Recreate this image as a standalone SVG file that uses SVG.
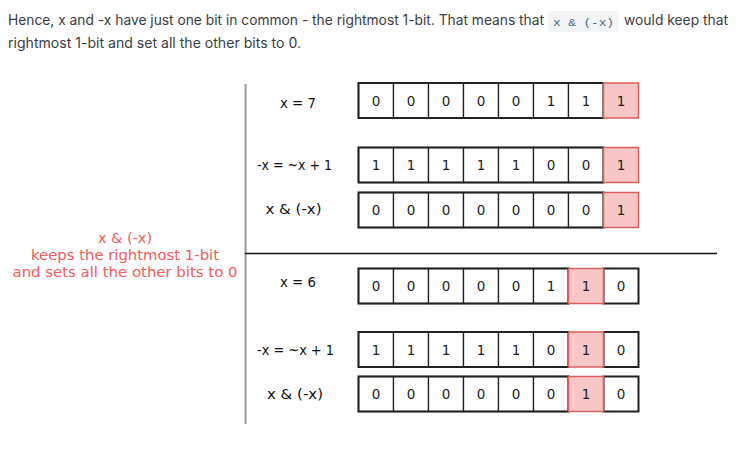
<svg xmlns="http://www.w3.org/2000/svg" width="746" height="452" viewBox="0 0 746 452">
<style>
.p{font-family:Inter,"Noto Sans",sans-serif;font-size:14px;fill:#3c3c43}
.code{font-family:"Liberation Mono","DejaVu Sans Mono",monospace;font-size:11.5px;fill:#476582}
.lbl{font-family:"Comic Sans MS","DejaVu Sans",sans-serif;font-size:13.5px;fill:#111;text-anchor:middle}
.red{font-family:"Comic Sans MS","DejaVu Sans",sans-serif;font-size:14.5px;fill:#f25c5c;text-anchor:middle}
.cell{fill:#fff;stroke:#222;stroke-width:1.3}
.hi{fill:#f8c6c6;stroke:#d9605e;stroke-width:1.5}
.outer{fill:none;stroke:#222;stroke-width:2}
.d{font-family:"Comic Sans MS","DejaVu Sans",sans-serif;font-size:13.5px;fill:#222;text-anchor:middle}
</style>
<rect width="746" height="452" fill="#fff"/>
<g id="intro">
<text class="p" x="8" y="25" textLength="536" lengthAdjust="spacingAndGlyphs">Hence, x and -x have just one bit in common - the rightmost 1-bit. That means that</text>
<rect x="548" y="11" width="71" height="21" rx="4" fill="#f3f4f6"/>
<text class="code" x="553" y="26" textLength="61" lengthAdjust="spacingAndGlyphs">x &amp; (-x)</text>
<text class="p" x="624" y="25" textLength="104" lengthAdjust="spacingAndGlyphs">would keep that</text>
<text class="p" x="8" y="48" textLength="293" lengthAdjust="spacingAndGlyphs">rightmost 1-bit and set all the other bits to 0.</text>
</g>
<g id="connectors">
<line x1="245.5" y1="84" x2="245.5" y2="424" stroke="#999" stroke-width="2"/>
<line x1="245" y1="253.5" x2="717" y2="253.5" stroke="#111" stroke-width="1.5"/>
</g>
<g id="note">
<text class="red" x="125" y="243">x &amp; (-x)</text>
<text class="red" x="125" y="260" textLength="188" lengthAdjust="spacingAndGlyphs">keeps the rightmost 1-bit</text>
<text class="red" x="125" y="277" textLength="225" lengthAdjust="spacingAndGlyphs">and sets all the other bits to 0</text>
</g>
<g id="row1">
<text class="lbl" x="298" y="108" textLength="36" lengthAdjust="spacingAndGlyphs">x = 7</text>
<rect class="cell" x="358.5" y="83" width="35" height="35"/><text class="d" x="376" y="105.5">0</text>
<rect class="cell" x="393.5" y="83" width="35" height="35"/><text class="d" x="411" y="105.5">0</text>
<rect class="cell" x="428.5" y="83" width="35" height="35"/><text class="d" x="446" y="105.5">0</text>
<rect class="cell" x="463.5" y="83" width="35" height="35"/><text class="d" x="481" y="105.5">0</text>
<rect class="cell" x="498.5" y="83" width="35" height="35"/><text class="d" x="516" y="105.5">0</text>
<rect class="cell" x="533.5" y="83" width="35" height="35"/><text class="d" x="551" y="105.5">1</text>
<rect class="cell" x="568.5" y="83" width="35" height="35"/><text class="d" x="586" y="105.5">1</text>
<rect class="outer" x="358.5" y="83" width="245" height="35"/>
<rect class="hi" x="603.5" y="83" width="35" height="35"/><text class="d" x="621" y="105.5">1</text>
</g>
<g id="row2">
<text class="lbl" x="294.5" y="169.5" textLength="75" lengthAdjust="spacingAndGlyphs">-x = ~x + 1</text>
<rect class="cell" x="358.5" y="147.5" width="35" height="35"/><text class="d" x="376" y="170">1</text>
<rect class="cell" x="393.5" y="147.5" width="35" height="35"/><text class="d" x="411" y="170">1</text>
<rect class="cell" x="428.5" y="147.5" width="35" height="35"/><text class="d" x="446" y="170">1</text>
<rect class="cell" x="463.5" y="147.5" width="35" height="35"/><text class="d" x="481" y="170">1</text>
<rect class="cell" x="498.5" y="147.5" width="35" height="35"/><text class="d" x="516" y="170">1</text>
<rect class="cell" x="533.5" y="147.5" width="35" height="35"/><text class="d" x="551" y="170">0</text>
<rect class="cell" x="568.5" y="147.5" width="35" height="35"/><text class="d" x="586" y="170">0</text>
<rect class="outer" x="358.5" y="147.5" width="245" height="35"/>
<rect class="hi" x="603.5" y="147.5" width="35" height="35"/><text class="d" x="621" y="170">1</text>
</g>
<g id="row3">
<text class="lbl" x="293.5" y="214" textLength="56" lengthAdjust="spacingAndGlyphs">x &amp; (-x)</text>
<rect class="cell" x="358.5" y="192.5" width="35" height="35"/><text class="d" x="376" y="215">0</text>
<rect class="cell" x="393.5" y="192.5" width="35" height="35"/><text class="d" x="411" y="215">0</text>
<rect class="cell" x="428.5" y="192.5" width="35" height="35"/><text class="d" x="446" y="215">0</text>
<rect class="cell" x="463.5" y="192.5" width="35" height="35"/><text class="d" x="481" y="215">0</text>
<rect class="cell" x="498.5" y="192.5" width="35" height="35"/><text class="d" x="516" y="215">0</text>
<rect class="cell" x="533.5" y="192.5" width="35" height="35"/><text class="d" x="551" y="215">0</text>
<rect class="cell" x="568.5" y="192.5" width="35" height="35"/><text class="d" x="586" y="215">0</text>
<rect class="outer" x="358.5" y="192.5" width="245" height="35"/>
<rect class="hi" x="603.5" y="192.5" width="35" height="35"/><text class="d" x="621" y="215">1</text>
</g>
<g id="row4">
<text class="lbl" x="298" y="287" textLength="36" lengthAdjust="spacingAndGlyphs">x = 6</text>
<rect class="cell" x="358.5" y="268.5" width="35" height="35"/><text class="d" x="376" y="291">0</text>
<rect class="cell" x="393.5" y="268.5" width="35" height="35"/><text class="d" x="411" y="291">0</text>
<rect class="cell" x="428.5" y="268.5" width="35" height="35"/><text class="d" x="446" y="291">0</text>
<rect class="cell" x="463.5" y="268.5" width="35" height="35"/><text class="d" x="481" y="291">0</text>
<rect class="cell" x="498.5" y="268.5" width="35" height="35"/><text class="d" x="516" y="291">0</text>
<rect class="cell" x="533.5" y="268.5" width="35" height="35"/><text class="d" x="551" y="291">1</text>
<rect class="outer" x="358.5" y="268.5" width="210" height="35"/>
<rect class="outer" x="603.5" y="268.5" width="35" height="35"/><text class="d" x="621" y="291">0</text>
<rect class="hi" x="568.5" y="268.5" width="35" height="35"/><text class="d" x="586" y="291">1</text>
</g>
<g id="row5">
<text class="lbl" x="295.5" y="355" textLength="77" lengthAdjust="spacingAndGlyphs">-x = ~x + 1</text>
<rect class="cell" x="358.5" y="332" width="35" height="35"/><text class="d" x="376" y="354.5">1</text>
<rect class="cell" x="393.5" y="332" width="35" height="35"/><text class="d" x="411" y="354.5">1</text>
<rect class="cell" x="428.5" y="332" width="35" height="35"/><text class="d" x="446" y="354.5">1</text>
<rect class="cell" x="463.5" y="332" width="35" height="35"/><text class="d" x="481" y="354.5">1</text>
<rect class="cell" x="498.5" y="332" width="35" height="35"/><text class="d" x="516" y="354.5">1</text>
<rect class="cell" x="533.5" y="332" width="35" height="35"/><text class="d" x="551" y="354.5">0</text>
<rect class="outer" x="358.5" y="332" width="210" height="35"/>
<rect class="outer" x="603.5" y="332" width="35" height="35"/><text class="d" x="621" y="354.5">0</text>
<rect class="hi" x="568.5" y="332" width="35" height="35"/><text class="d" x="586" y="354.5">1</text>
</g>
<g id="row6">
<text class="lbl" x="295" y="399" textLength="56" lengthAdjust="spacingAndGlyphs">x &amp; (-x)</text>
<rect class="cell" x="358.5" y="376.5" width="35" height="35"/><text class="d" x="376" y="399">0</text>
<rect class="cell" x="393.5" y="376.5" width="35" height="35"/><text class="d" x="411" y="399">0</text>
<rect class="cell" x="428.5" y="376.5" width="35" height="35"/><text class="d" x="446" y="399">0</text>
<rect class="cell" x="463.5" y="376.5" width="35" height="35"/><text class="d" x="481" y="399">0</text>
<rect class="cell" x="498.5" y="376.5" width="35" height="35"/><text class="d" x="516" y="399">0</text>
<rect class="cell" x="533.5" y="376.5" width="35" height="35"/><text class="d" x="551" y="399">0</text>
<rect class="outer" x="358.5" y="376.5" width="210" height="35"/>
<rect class="outer" x="603.5" y="376.5" width="35" height="35"/><text class="d" x="621" y="399">0</text>
<rect class="hi" x="568.5" y="376.5" width="35" height="35"/><text class="d" x="586" y="399">1</text>
</g>
</svg>
